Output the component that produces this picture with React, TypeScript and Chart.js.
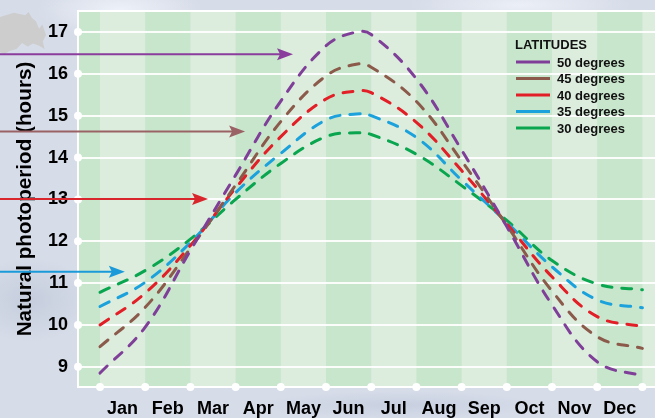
import React, { useEffect, useRef } from 'react';
import { Chart, registerables } from 'chart.js';

Chart.register(...registerables);

// ---- data ----
const monthLabels = ['Jan', 'Feb', 'Mar', 'Apr', 'May', 'Jun', 'Jul', 'Aug', 'Sep', 'Oct', 'Nov', 'Dec'];
// position within the year, in months from 1 January
const monthPositions = [0, 1, 2, 3, 4, 5, 5.67, 6, 7, 8, 9, 10, 11, 12];
const lat50 = [8.85, 9.95, 11.78, 13.58, 15.35, 16.67, 17.0, 16.94, 15.88, 14.18, 12.35, 10.48, 9.12, 8.78];
const lat45 = [9.48, 10.42, 11.83, 13.34, 14.86, 15.95, 16.23, 16.16, 15.34, 13.92, 12.38, 10.81, 9.72, 9.44];
const lat40 = [10.0, 10.76, 11.9, 13.27, 14.5, 15.4, 15.59, 15.55, 14.84, 13.69, 12.42, 11.15, 10.2, 9.96];
const lat35 = [10.44, 11.02, 11.97, 13.16, 14.1, 14.9, 15.04, 15.0, 14.48, 13.46, 12.45, 11.39, 10.6, 10.41];
const lat30 = [10.78, 11.3, 12.05, 13.0, 13.86, 14.5, 14.59, 14.55, 14.08, 13.33, 12.5, 11.54, 10.98, 10.84];
const seriesLabels = ['50 degrees', '45 degrees', '40 degrees', '35 degrees', '30 degrees'];
const seriesValues = [lat50, lat45, lat40, lat35, lat30];
const seriesColors = ['#7f3f98', '#8b5a4a', '#e21e26', '#1ba1db', '#0aa54f'];
const yTickValues = [9, 10, 11, 12, 13, 14, 15, 16, 17];
const legendTitle = 'LATITUDES';
const axisTitle = 'Natural photoperiod (hours)';

// annotation arrows: level (hours) and tip position (months)
const arrowLevels = [16.47, 14.62, 13.01, 11.27];
const arrowTips = [4.27, 3.21, 2.39, 0.55];
const arrowColors = ['#8a3d9c', '#9a6264', '#d8262c', '#1a9ad8'];

const FONT = "'Liberation Sans', Arial, Helvetica, sans-serif";

const stripesPlugin = {
  id: 'stripes',
  beforeDraw(chart: any) {
    const { ctx, chartArea: a, scales } = chart;
    const x = scales.x;
    ctx.save();
    ctx.fillStyle = 'rgb(220,236,221)';
    ctx.fillRect(a.left, a.top, a.right - a.left, a.bottom - a.top);
    ctx.fillStyle = 'rgb(200,230,204)';
    for (let m = -1; m <= 12; m++) {
      if (Math.abs(m % 2) !== 1) continue;
      const x0 = Math.max(a.left, x.getPixelForValue(m));
      const x1 = Math.min(a.right, x.getPixelForValue(m + 1));
      if (x1 > x0) ctx.fillRect(x0, a.top, x1 - x0, a.bottom - a.top);
    }
    ctx.restore();
  },
};

const decorPlugin = {
  id: 'decor',
  afterDatasetsDraw(chart: any) {
    const { ctx, chartArea: a, scales } = chart;
    const xs = scales.x;
    const ys = scales.y;
    ctx.save();
    // top border
    ctx.strokeStyle = '#ffffff';
    ctx.lineWidth = 2;
    ctx.beginPath();
    ctx.moveTo(a.left, a.top);
    ctx.lineTo(a.right, a.top);
    ctx.stroke();
    // axis dots
    ctx.fillStyle = '#ffffff';
    yTickValues.forEach((v) => {
      ctx.beginPath();
      ctx.arc(a.left, ys.getPixelForValue(v), 4, 0, Math.PI * 2);
      ctx.fill();
    });
    for (let m = 0; m <= 12; m++) {
      ctx.beginPath();
      ctx.arc(xs.getPixelForValue(m), a.bottom, 4, 0, Math.PI * 2);
      ctx.fill();
    }
    // arrows
    arrowLevels.forEach((lvl, i) => {
      const y = ys.getPixelForValue(lvl);
      const tip = xs.getPixelForValue(arrowTips[i]);
      ctx.strokeStyle = arrowColors[i];
      ctx.fillStyle = arrowColors[i];
      ctx.lineWidth = 2;
      ctx.beginPath();
      ctx.moveTo(0, y);
      ctx.lineTo(tip - 10, y);
      ctx.stroke();
      ctx.beginPath();
      ctx.moveTo(tip, y);
      ctx.lineTo(tip - 16, y - 6);
      ctx.lineTo(tip - 13, y);
      ctx.lineTo(tip - 16, y + 6);
      ctx.closePath();
      ctx.fill();
    });
    // legend
    const lx = 516;
    const ty = 45;
    ctx.fillStyle = '#111';
    ctx.font = `bold 13px ${FONT}`;
    ctx.textBaseline = 'middle';
    ctx.textAlign = 'left';
    ctx.fillText(legendTitle, 515, ty);
    chart.data.datasets.forEach((ds: any, i: number) => {
      const y = 62 + i * 16.5;
      ctx.strokeStyle = ds.borderColor;
      ctx.lineWidth = 3;
      ctx.beginPath();
      ctx.moveTo(lx, y);
      ctx.lineTo(lx + 34, y);
      ctx.stroke();
      ctx.fillStyle = '#111';
      ctx.fillText(ds.label, 557, y + 1);
    });
    ctx.restore();
  },
};

export default function App() {
  const ref = useRef<HTMLCanvasElement | null>(null);

  useEffect(() => {
    document.body.style.margin = '0';
    const canvas = ref.current;
    if (!canvas) return;
    const chart = new Chart(canvas, {
      type: 'line',
      data: {
        datasets: seriesValues.map((vals, i) => ({
          label: seriesLabels[i],
          data: monthPositions.map((x, j) => ({ x, y: vals[j] })),
          borderColor: seriesColors[i],
          backgroundColor: seriesColors[i],
          borderWidth: 3,
          borderDash: [10, 10],
          borderCapStyle: 'round',
          pointRadius: 0,
          tension: 0.4,
          fill: false,
        })),
      },
      options: {
        responsive: false,
        animation: false,
        layout: { padding: { top: 11, right: 0, left: 0, bottom: 0 } },
        plugins: {
          legend: { display: false },
          tooltip: { enabled: false },
        },
        scales: {
          x: {
            type: 'linear',
            min: -0.487,
            max: 12.279,
            afterFit: (s: any) => {
              s.height = 31;
              s.paddingLeft = 0;
              s.paddingRight = 0;
            },
            afterBuildTicks: (s: any) => {
              s.ticks = monthLabels.map((_, i) => ({ value: i + 0.5 }));
            },
            grid: { display: false, drawTicks: false },
            border: { display: true, color: '#ffffff', width: 2 },
            ticks: {
              autoSkip: false,
              maxRotation: 0,
              padding: 11,
              color: '#000',
              font: { family: FONT, size: 18, weight: 'bold' },
              callback: (v: any) => monthLabels[Math.floor(Number(v))],
            },
          },
          y: {
            type: 'linear',
            min: 8.517,
            max: 17.502,
            afterFit: (s: any) => {
              s.width = 78;
              s.paddingTop = 0;
              s.paddingBottom = 0;
            },
            afterBuildTicks: (s: any) => {
              s.ticks = yTickValues.map((v) => ({ value: v }));
            },
            grid: { color: 'rgba(255,255,255,0.9)', lineWidth: 2, drawTicks: false },
            border: { display: true, color: '#ffffff', width: 2 },
            ticks: {
              padding: 10,
              color: '#000',
              font: { family: FONT, size: 18, weight: 'bold' },
              callback: (v: any) => String(v),
            },
            title: {
              display: true,
              text: axisTitle,
              color: '#000',
              padding: { top: 12.6, bottom: 0 },
              font: { family: FONT, size: 20.7, weight: 'bold' },
            },
          },
        },
      },
      plugins: [stripesPlugin, decorPlugin],
    } as any);
    return () => chart.destroy();
  }, []);

  return (
    <div
      style={{
        position: 'fixed',
        left: 0,
        top: 0,
        width: 655,
        height: 418,
        overflow: 'hidden',
        background:
          'radial-gradient(ellipse 120px 40px at 120px 10px, rgba(240,243,250,0.9), rgba(240,243,250,0) 70%),' +
          'radial-gradient(ellipse 160px 30px at 520px 5px, rgba(238,241,248,0.9), rgba(238,241,248,0) 70%),' +
          'radial-gradient(ellipse 90px 60px at 30px 300px, rgba(190,198,215,0.7), rgba(190,198,215,0) 70%),' +
          'radial-gradient(ellipse 200px 20px at 400px 405px, rgba(196,204,222,0.8), rgba(196,204,222,0) 70%),' +
          '#d6dce8',
      }}
    >
      <div
        style={{
          position: 'absolute',
          left: 0,
          top: 12,
          width: 46,
          height: 42,
          background: '#cdcdcd',
          clipPath:
            'polygon(0% 12%, 30% 2%, 55% 8%, 62% 0%, 70% 15%, 78% 22%, 85% 40%, 92% 30%, 100% 55%, 93% 70%, 97% 88%, 84% 80%, 72% 75%, 60% 82%, 48% 74%, 36% 88%, 22% 92%, 10% 100%, 0% 96%)',
        }}
      />
      <canvas ref={ref} width={655} height={418} style={{ position: 'absolute', left: 0, top: 0 }} />
    </div>
  );
}
